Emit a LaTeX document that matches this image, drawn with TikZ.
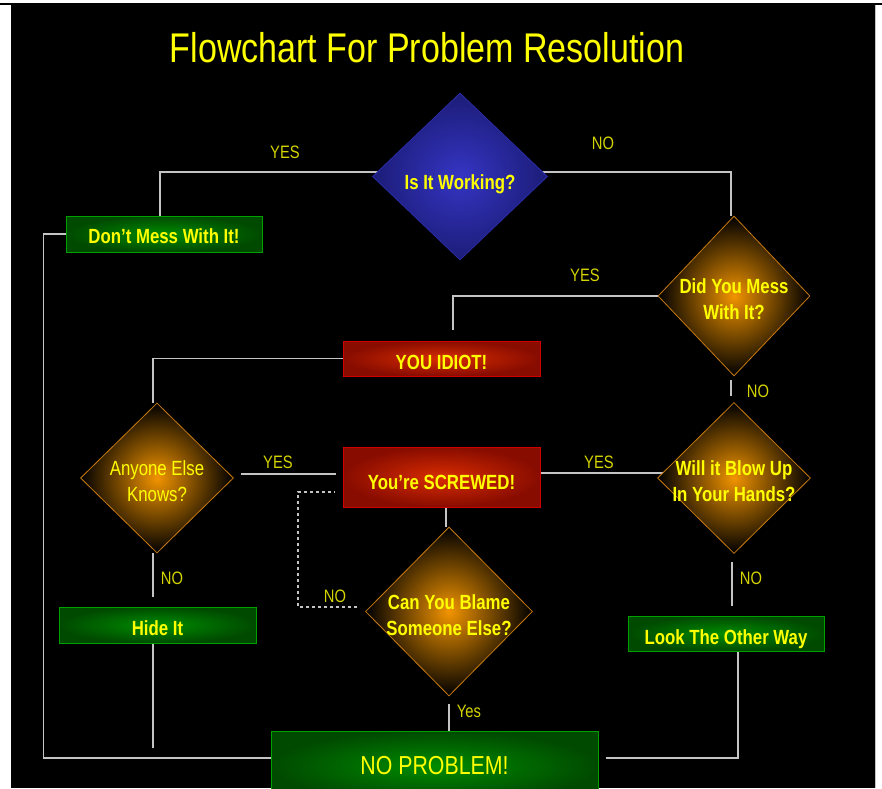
\documentclass[tikz,border=0pt]{standalone}
\usepackage{fontspec}
\setmainfont{Liberation Sans}[FakeStretch=0.82]
\usetikzlibrary{shapes.geometric, backgrounds}

\definecolor{flowyellow}{HTML}{FFFF00}
\definecolor{labelyellow}{HTML}{D4D400}
\definecolor{linegray}{HTML}{C4C4C4}
\definecolor{askblue}{HTML}{3535C4}
\definecolor{askblueout}{HTML}{1C1C78}
\definecolor{askblueedge}{HTML}{2C2CA8}
\definecolor{askorange}{HTML}{F29400}
\definecolor{askorangeedge}{HTML}{C87A10}
\definecolor{alarmred}{HTML}{D82C00}
\definecolor{alarmredout}{HTML}{880C00}
\definecolor{alarmredge}{HTML}{D00000}
\definecolor{okgreen}{HTML}{008C00}
\definecolor{okgreenout}{HTML}{004A00}
\definecolor{okgreenedge}{HTML}{00A000}

% invisible strut that pushes a node's text down by #1
\newcommand{\dropby}[1]{\rule{0pt}{\dimexpr15pt+2\dimexpr#1\relax\relax}}

\tikzset{
  base/.style={inner sep=0pt, text=flowyellow, align=center,
    font=\fontsize{20.5}{26}\selectfont\bfseries},
  decision/.style={base, diamond, inner sep=-8pt, shade, shading=radial,
    inner color=askorange, outer color=black, draw=askorangeedge, line width=0.8pt},
  startnode/.style={base, diamond, inner sep=-8pt, shade, shading=radial,
    inner color=askblue, outer color=askblueout, draw=askblueedge, line width=0.8pt},
  okbox/.style={base, rectangle, shade, shading=radial,
    inner color=okgreen, outer color=okgreenout, draw=okgreenedge, line width=0.8pt,
    minimum width=196pt, minimum height=36pt},
  alarmbox/.style={base, rectangle, shade, shading=radial,
    inner color=alarmred, outer color=alarmredout, draw=alarmredge, line width=0.8pt,
    minimum width=197pt, minimum height=35pt},
  link/.style={draw=linegray, line width=1.3pt},
  answer/.style={inner sep=0pt, text=labelyellow, font=\fontsize{18}{18}\selectfont},
}

\begin{document}
\begin{tikzpicture}[x=1pt, y=-1pt]
  \useasboundingbox (0,0) rectangle (882,788);
  \begin{scope}[on background layer]
    \fill[white] (0,0) rectangle (882,788);
    \fill[black] (11,3) rectangle (875,788);
    \fill[black] (0,3) rectangle (882,5);
    \draw[linegray, line width=0.8pt] (875.5,5) -- (875.5,788);
  \end{scope}

  \node[text=flowyellow, inner sep=0pt, font=\fontsize{41.5}{41.5}\selectfont]
    (title) at (427,48) {Flowchart For Problem Resolution};

  % questions and outcomes
  \node[startnode, minimum width=175pt, minimum height=167pt] (work) at (460,176.5) {\dropby{8pt}Is It Working?};
  \node[okbox] (dont) at (164,234) {\dropby{2.5pt}Don’t Mess With It!};
  \node[decision, minimum width=152pt, minimum height=160pt] (mess) at (734,296) {\dropby{3.5pt}Did You Mess\\With It?};
  \node[alarmbox] (idiot) at (441.5,358.5) {\dropby{4pt}YOU IDIOT!};
  \node[decision, minimum width=153pt, minimum height=150pt,
    font=\fontsize{20.5}{26}\selectfont] (knows) at (157,478) {\dropby{3pt}Anyone Else\\Knows?};
  \node[alarmbox, minimum height=60pt] (screwed) at (441.5,477) {\dropby{5pt}You’re SCREWED!};
  \node[decision, minimum width=153pt, minimum height=151pt] (blow) at (734,478) {\dropby{3pt}Will it Blow Up\\In Your Hands?};
  \node[okbox, minimum width=197pt] (hide) at (157.5,625) {\dropby{3pt}Hide It};
  \node[decision, minimum width=167pt, minimum height=169pt] (blame) at (449,611.5) {\dropby{3.5pt}Can You Blame\\Someone Else?};
  \node[okbox, minimum height=35pt] (look) at (726,633.5) {\dropby{6pt}Look The Other Way};
  \node[okbox, minimum width=327pt, minimum height=70pt,
    font=\fontsize{26}{26}\selectfont] (noprob) at (434.5,766) {NO PROBLEM!};

  % connectors, behind the shapes
  \begin{scope}[on background layer]
    \draw[link] ([yshift=4.5pt]work.center) -| ([xshift=-4pt]dont.north);
    \draw[link] ([yshift=4.5pt]work.center) -| ([xshift=-3pt]mess.north);
    \draw[link] (mess.center) -| ([xshift=11.5pt, yshift=11pt]idiot.north);
    \draw[link] (idiot.west) -| ([xshift=-4pt]knows.north);
    \draw[link] ([xshift=7pt, yshift=4pt]knows.east) -- ([xshift=-7pt, yshift=3pt]screwed.west);
    \draw[link] ([yshift=4pt]screwed.east) -- ([yshift=4pt]screwed.east -| blow.center);
    \draw[link] ([xshift=-3pt, yshift=-4pt]mess.south) -- ([xshift=-3pt, yshift=6pt]blow.north);
    \draw[link] ([xshift=-2pt, yshift=-8pt]blow.south) -- ([xshift=6pt, yshift=10pt]look.north);
    \draw[link] ([xshift=12pt]look.south) |- ([xshift=8pt, yshift=8pt]noprob.east);
    \draw[link] (dont.west) -- ++(-22,0) |- ([yshift=8pt]noprob.west);
    \draw[link] ([xshift=-4pt]knows.south) -- ([xshift=-4.5pt, yshift=10pt]hide.north);
    \draw[link] ([xshift=-4.5pt]hide.south) -- ++(0,105);
    \draw[link] ([xshift=4.5pt]screwed.south) -- ([xshift=-3pt]blame.north);
    \draw[link, dashed] ([xshift=-8pt, yshift=4.5pt]blame.west) -- ++(-59,0)
      |- ([xshift=-8pt, yshift=-15pt]screwed.west);
    \draw[link] ([yshift=-8pt]blame.south) -- (blame.south |- noprob.north);
  \end{scope}

  % answers
  \node[answer] (workyes) at (285,152) {YES};
  \node[answer] (workno) at (603,143) {NO};
  \node[answer] (messyes) at (585,275) {YES};
  \node[answer] (messno) at (758,391) {NO};
  \node[answer] (knowsyes) at (278,462) {YES};
  \node[answer] (blowyes) at (599,462) {YES};
  \node[answer] (knowsno) at (172,578) {NO};
  \node[answer] (blowno) at (751,578) {NO};
  \node[answer] (blameno) at (335,596) {NO};
  \node[answer] (blameyes) at (469,711) {Yes};
\end{tikzpicture}
\end{document}
